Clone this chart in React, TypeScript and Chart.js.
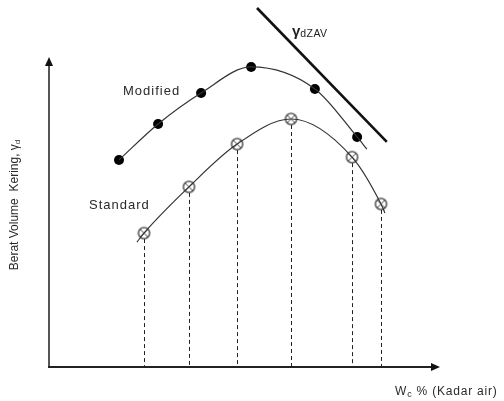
import React, { useEffect, useRef } from "react";
import { Chart, registerables } from "chart.js";

Chart.register(...registerables);

// Compaction test results, relative units (water content vs dry unit weight)
const standardWater = [24.3, 35.8, 48.1, 61.9, 77.5, 84.9];
const standardDensity = [43.2, 58.1, 71.9, 80.0, 67.7, 52.6];
const modifiedWater = [17.9, 27.9, 38.9, 51.7, 68.0, 78.8];
const modifiedDensity = [66.8, 78.4, 88.4, 96.8, 89.7, 74.2];

// Fitted curve tails that run past the first/last test points
const standardTailStart = { x: 22.5, y: 40.3 };
const standardTailEnd = { x: 85.9, y: 49.7 };
const modifiedTailEnd = { x: 81.3, y: 70.3 };

// Zero air voids line end points
const zavWater = [53.2, 86.4];
const zavDensity = [115.8, 72.6];

const FONT = '"Liberation Sans", Arial, sans-serif';

function pts(xs: number[], ys: number[]) {
  return xs.map((x, i) => ({ x, y: ys[i] }));
}

function makeCrossCircle(): HTMLCanvasElement {
  const c = document.createElement("canvas");
  c.width = 15;
  c.height = 15;
  const g = c.getContext("2d")!;
  const cx = 7.5, cy = 7.5, r = 5.6;
  g.beginPath();
  g.arc(cx, cy, r, 0, Math.PI * 2);
  g.fillStyle = "#ffffff";
  g.fill();
  g.lineWidth = 1.3;
  g.strokeStyle = "#333333";
  g.stroke();
  g.beginPath();
  const d = r * 0.7;
  g.moveTo(cx - d, cy - d);
  g.lineTo(cx + d, cy + d);
  g.moveTo(cx + d, cy - d);
  g.lineTo(cx - d, cy + d);
  g.lineWidth = 1;
  g.strokeStyle = "#444444";
  g.stroke();
  return c;
}

const decorations = {
  id: "compactionDecor",
  afterDatasetsDraw(chart: any) {
    const { ctx, chartArea } = chart;
    const { left, right, top, bottom } = chartArea;
    ctx.save();

    // drop lines from the standard test points to the water content axis
    const stdMeta = chart.getDatasetMeta(3);
    ctx.setLineDash([4, 3]);
    ctx.strokeStyle = "#222";
    ctx.lineWidth = 1;
    stdMeta.data.forEach((p: any) => {
      const x = Math.round(p.x) + 0.5;
      ctx.beginPath();
      ctx.moveTo(x, p.y + 6);
      ctx.lineTo(x, bottom);
      ctx.stroke();
    });
    ctx.setLineDash([]);

    // axes with arrow heads
    ctx.lineWidth = 2;
    ctx.strokeStyle = "#555";
    ctx.beginPath();
    ctx.moveTo(left, bottom + 1);
    ctx.lineTo(left, top + 6);
    ctx.stroke();
    ctx.fillStyle = "#111";
    ctx.beginPath();
    ctx.moveTo(left, top);
    ctx.lineTo(left - 4, top + 9);
    ctx.lineTo(left + 4, top + 9);
    ctx.closePath();
    ctx.fill();

    ctx.strokeStyle = "#222";
    ctx.beginPath();
    ctx.moveTo(left - 1, bottom);
    ctx.lineTo(right - 6, bottom);
    ctx.stroke();
    ctx.beginPath();
    ctx.moveTo(right, bottom);
    ctx.lineTo(right - 9, bottom - 4);
    ctx.lineTo(right - 9, bottom + 4);
    ctx.closePath();
    ctx.fill();

    // curve labels
    ctx.fillStyle = "#2a2a2a";
    ctx.textBaseline = "middle";
    ctx.textAlign = "left";
    ctx.font = `13px ${FONT}`;
    (ctx as any).letterSpacing = "1px";
    ctx.fillText("Modified", 123, 91);
    ctx.fillText("Standard", 89, 205);

    // x axis title
    (ctx as any).letterSpacing = "0.8px";
    ctx.font = `12px ${FONT}`;
    let x = 395;
    const yb = 392;
    ctx.fillText("W", x, yb);
    x += ctx.measureText("W").width;
    ctx.font = `9px ${FONT}`;
    ctx.fillText("c", x, yb + 3);
    x += ctx.measureText("c").width;
    ctx.font = `12px ${FONT}`;
    ctx.fillText(" % (Kadar air)", x, yb);

    // zero air voids label
    (ctx as any).letterSpacing = "0px";
    ctx.fillStyle = "#222";
    ctx.font = `bold 15px ${FONT}`;
    ctx.fillText("γ", 292, 32);
    const gw = ctx.measureText("γ").width;
    ctx.font = `10.5px ${FONT}`;
    (ctx as any).letterSpacing = "0.4px";
    ctx.fillText("dZAV", 292 + gw, 34);

    // y axis title
    ctx.translate(15, 205);
    ctx.rotate(-Math.PI / 2);
    (ctx as any).letterSpacing = "0px";
    ctx.fillStyle = "#2a2a2a";
    ctx.font = `12px ${FONT}`;
    const main = "Berat Volume  Kering, γ";
    const mw = ctx.measureText(main).width;
    ctx.font = `8px ${FONT}`;
    const sw = ctx.measureText("d").width;
    ctx.font = `12px ${FONT}`;
    ctx.textAlign = "left";
    const sx = -(mw + sw) / 2;
    ctx.fillText(main, sx, 0);
    ctx.font = `8px ${FONT}`;
    ctx.fillText("d", sx + mw, 3);

    ctx.restore();
  },
};

export default function App() {
  const ref = useRef<HTMLCanvasElement | null>(null);

  useEffect(() => {
    if (!ref.current) return;
    const marker = makeCrossCircle();
    const chart = new Chart(ref.current, {
      type: "scatter",
      data: {
        datasets: [
          {
            label: "Standard curve",
            data: [standardTailStart, ...pts(standardWater, standardDensity), standardTailEnd],
            showLine: true,
            cubicInterpolationMode: "monotone",
            borderColor: "#333",
            borderWidth: 1.2,
            pointRadius: 0,
          },
          {
            label: "Modified curve",
            data: [...pts(modifiedWater, modifiedDensity), modifiedTailEnd],
            showLine: true,
            cubicInterpolationMode: "monotone",
            borderColor: "#333",
            borderWidth: 1.2,
            pointRadius: 0,
          },
          {
            label: "Modified",
            data: pts(modifiedWater, modifiedDensity),
            showLine: false,
            pointRadius: 5,
            pointBackgroundColor: "#000",
            pointBorderColor: "#000",
            pointBorderWidth: 0,
          },
          {
            label: "Standard",
            data: pts(standardWater, standardDensity),
            showLine: false,
            pointStyle: marker,
            pointRadius: 7,
          },
          {
            label: "ZAV",
            data: pts(zavWater, zavDensity),
            showLine: true,
            borderColor: "#111",
            borderWidth: 2.6,
            pointRadius: 0,
            clip: false,
          } as any,
        ],
      },
      options: {
        animation: false,
        responsive: false,
        events: [],
        layout: { padding: { left: 49, right: 64, top: 57, bottom: 34 } },
        scales: {
          x: { type: "linear", min: 0, max: 100, display: false },
          y: { type: "linear", min: 0, max: 100, display: false },
        },
        plugins: {
          legend: { display: false },
          tooltip: { enabled: false },
          title: { display: false },
        },
      },
      plugins: [decorations],
    });
    return () => chart.destroy();
  }, []);

  return (
    <div style={{ position: "fixed", left: 0, top: 0, width: 504, height: 401, background: "#fff" }}>
      <canvas ref={ref} width={504} height={401} style={{ display: "block" }} />
    </div>
  );
}
